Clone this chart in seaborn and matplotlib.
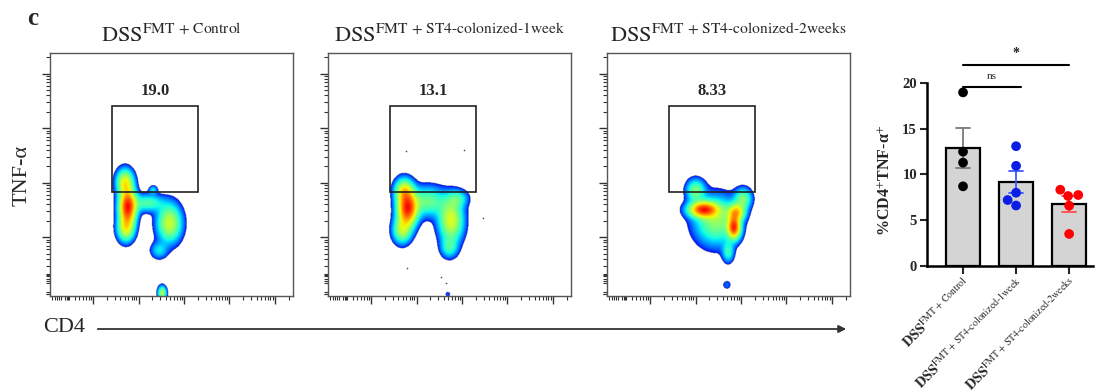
import numpy as np
import pandas as pd
import matplotlib
matplotlib.use("Agg")
import matplotlib.pyplot as plt
import seaborn as sns
from matplotlib.colors import LinearSegmentedColormap, PowerNorm
from matplotlib.patches import Rectangle, FancyArrowPatch

sns.set_theme(style="ticks")
plt.rcParams['font.family'] = ['Liberation Serif', 'DejaVu Serif']
plt.rcParams['mathtext.fontset'] = 'stix'

# ---- data -------------------------------------------------------------
groups = ["Control", "ST4-colonized-1week", "ST4-colonized-2weeks"]
gate_pct = ["19.0", "13.1", "8.33"]

ctrl_vals = [19.0, 12.5, 11.3, 8.7]
wk1_vals = [13.1, 10.95, 8.0, 7.2, 6.6]
wk2_vals = [8.33, 7.75, 7.64, 6.58, 3.48]

point_colors = ["black", "#0a1ee6", "#ff0000"]
err_colors = ["#7a7a7a", "#3c5aff", "#ff5050"]

# cell populations: (cx, cy, sx, sy, weight), log-decade units
pop_ctrl = [(1.76, 2.55, 0.12, 0.20, 1.00), (1.70, 3.00, 0.12, 0.15, 0.50),
            (1.72, 2.15, 0.12, 0.15, 0.45), (2.68, 2.25, 0.17, 0.22, 0.45),
            (2.20, 2.62, 0.22, 0.10, 0.25), (2.32, 2.86, 0.06, 0.05, 0.15),
            (2.45, 1.75, 0.12, 0.10, 0.15), (2.52, 0.97, 0.06, 0.08, 0.40)]
pop_wk1 = [(1.80, 2.52, 0.14, 0.20, 1.00), (1.72, 2.85, 0.13, 0.14, 0.45),
           (1.68, 2.12, 0.13, 0.15, 0.40), (2.25, 2.65, 0.25, 0.17, 0.30),
           (2.76, 2.30, 0.17, 0.25, 0.50), (2.90, 2.70, 0.15, 0.10, 0.20),
           (2.72, 1.80, 0.12, 0.12, 0.20), (2.69, 0.95, 0.05, 0.04, 0.06)]
pop_wk2 = [(2.17, 2.50, 0.20, 0.09, 0.85), (2.85, 2.17, 0.09, 0.13, 0.85),
           (2.90, 2.45, 0.12, 0.10, 0.55), (2.00, 2.85, 0.13, 0.13, 0.30),
           (2.45, 2.30, 0.30, 0.28, 0.35), (3.05, 2.70, 0.12, 0.12, 0.30),
           (2.72, 1.72, 0.08, 0.12, 0.20), (2.69, 1.12, 0.07, 0.06, 0.07)]
events_wk1 = [(1.77, 3.58), (3.05, 3.60), (1.79, 1.43), (2.54, 1.27), (2.65, 1.16), (3.46, 2.35)]

gate_x = (1.41, 3.31)
gate_y = (2.82, 4.40)
XLIM = (0.05, 5.40)
YLIM = (0.92, 5.38)
THR = 0.035

flow_cmap = LinearSegmentedColormap.from_list(
    "flow", plt.get_cmap("jet")(np.linspace(0.11, 0.9, 256)))


def density(pops, xx, yy):
    z = np.zeros_like(xx)
    for cx, cy, sx, sy, w in pops:
        z += w * np.exp(-0.5 * (((xx - cx) / sx) ** 2 + ((yy - cy) / sy) ** 2))
    return z / z.max()


def flow_panel(ax, pops, events, pct, title):
    xs = np.linspace(*XLIM, 500)
    ys = np.linspace(*YLIM, 500)
    xx, yy = np.meshgrid(xs, ys)
    z = np.ma.masked_less(density(pops, xx, yy), THR)
    ax.imshow(z, extent=[*XLIM, *YLIM], origin="lower", aspect="auto",
              cmap=flow_cmap, norm=PowerNorm(0.55, vmin=THR, vmax=1),
              interpolation="bilinear")
    if events:
        ex, ey = zip(*events)
        ax.scatter(ex, ey, s=1.5, color="#555555", lw=0)
    ax.add_patch(Rectangle((gate_x[0], gate_y[0]), gate_x[1] - gate_x[0],
                           gate_y[1] - gate_y[0], fill=False, ec="#222222", lw=1.2))
    ax.text(np.mean(gate_x), gate_y[1] + 0.14, pct, ha="center", va="bottom",
            fontsize=12, fontweight="bold")
    ax.set_xlim(*XLIM)
    ax.set_ylim(*YLIM)
    # log-like cytometry axes
    ax.set_xticks([1, 2, 3, 4, 5])
    ax.set_yticks([2, 3, 4, 5])
    xmin = [d + np.log10(k) for d in range(6) for k in range(2, 10)]
    xmin += [0.1, 0.15, 0.2, 0.25, 0.38, 0.42, 0.45]
    ymin = [d + np.log10(k) for d in range(6) for k in range(2, 10)]
    ymin += [0.95, 1.0, 1.16, 1.2, 1.24, 1.28, 1.33]
    ax.set_xticks([v for v in xmin if XLIM[0] < v < XLIM[1]], minor=True)
    ax.set_yticks([v for v in ymin if YLIM[0] < v < YLIM[1]], minor=True)
    ax.set_xticklabels([])
    ax.set_yticklabels([])
    ax.tick_params(which="major", length=6, width=1, color="#333333", direction="out")
    ax.tick_params(which="minor", length=3, width=0.8, color="#333333", direction="out")
    for sp in ax.spines.values():
        sp.set_color("#555555")
        sp.set_linewidth(1.0)
    ax.text(0.5, 1.045, title, transform=ax.transAxes, ha="center", va="baseline",
            fontsize=16)


fig = plt.figure(figsize=(10.97, 3.92), dpi=100)

pops = [pop_ctrl, pop_wk1, pop_wk2]
events = [None, events_wk1, None]
lefts = [50, 328, 607]
for i, left in enumerate(lefts):
    ax = fig.add_axes([left / 1097, 96 / 392, 243 / 1097, 243 / 392])
    title = r"$\mathrm{DSS}^{\text{FMT + " + groups[i] + r"}}$"
    flow_panel(ax, pops[i], events[i], gate_pct[i], title)

fig.text(22 / 1097, 1 - 175 / 392, "TNF-α", rotation=90, ha="center", va="center", fontsize=16)
fig.text(43 / 1097, 1 - 328 / 392, "CD4", ha="left", va="center", fontsize=16)
fig.add_artist(FancyArrowPatch((95 / 1097, 1 - 329 / 392), (849 / 1097, 1 - 329 / 392),
                               transform=fig.transFigure, arrowstyle="-|>",
                               mutation_scale=11, lw=1.3, color="#333333"))
fig.text(27 / 1097, 1 - 25 / 392, "c", ha="left", va="baseline", fontsize=18, fontweight="bold")

# ---- bar chart --------------------------------------------------------
df = pd.DataFrame({
    "group": [groups[0]] * len(ctrl_vals) + [groups[1]] * len(wk1_vals) + [groups[2]] * len(wk2_vals),
    "value": ctrl_vals + wk1_vals + wk2_vals,
})

axb = fig.add_axes([926.7 / 1097, 126.3 / 392, 166.3 / 1097, 209.8 / 392])
sns.barplot(data=df, x="group", y="value", order=groups, color="#d4d4d4",
            edgecolor="black", linewidth=1.6, width=0.64, errorbar="se",
            capsize=0.25, err_kws={"linewidth": 1.3}, ax=axb)
for i, ln in enumerate(axb.lines):
    ln.set_color(err_colors[i])
sns.swarmplot(data=df, x="group", y="value", order=groups, hue="group",
              hue_order=groups, palette=point_colors, size=7, legend=False,
              ax=axb, zorder=4)

axb.set_xlim(-0.685, 2.45)
axb.set_ylim(0, 23)
axb.set_yticks([0, 5, 10, 15, 20])
axb.spines["left"].set_bounds(0, 20)
sns.despine(ax=axb)
for sp in ["left", "bottom"]:
    axb.spines[sp].set_linewidth(1.8)
    axb.spines[sp].set_color("black")
axb.tick_params(axis="y", length=5, width=1.5, pad=2, labelsize=10.5)
axb.tick_params(axis="x", length=6, width=1.5, pad=1)
for lab in axb.get_yticklabels():
    lab.set_fontweight("bold")
axb.set_xlabel("")
axb.set_ylabel("")
axb.set_xticks(range(len(groups)))
axb.set_xticklabels([r"$\mathbf{DSS}^{\text{FMT + " + g + r"}}$" for g in groups],
                    rotation=45, ha="right", rotation_mode="anchor", fontsize=10.2)

fig.text(886 / 1097, 1 - 180 / 392, "%CD4$^{+}$TNF-α$^{+}$", rotation=90,
         ha="center", va="center", fontsize=11.5, fontweight="bold")

# significance brackets
axb.plot([0, 1.1], [19.6, 19.6], color="black", lw=1.5, clip_on=False)
axb.text(0.55, 20.2, "ns", ha="center", va="bottom", fontsize=8)
axb.plot([0, 2.0], [22.0, 22.0], color="black", lw=1.5, clip_on=False)
axb.text(1.0, 22.5, "*", ha="center", va="bottom", fontsize=10, fontweight="bold")

fig.savefig("out.png", dpi=100)
